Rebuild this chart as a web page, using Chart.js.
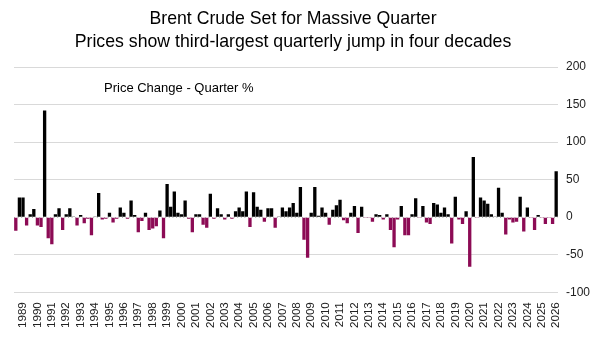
<!DOCTYPE html>
<html>
<head>
<meta charset="utf-8">
<script src="https://cdn.jsdelivr.net/npm/chart.js@4.4.1/dist/chart.umd.min.js"></script>
<style>
  html, body { margin: 0; padding: 0; background: #ffffff; }
  #wrap { width: 600px; height: 359px; position: relative; }
</style>
</head>
<body>
<div id="wrap"><canvas id="c" width="600" height="359"></canvas></div>
<script>
// ---- Data (quarterly % change, Brent crude, 1988 Q3 .. 2026 Q1) ----
const firstYear = 1988;
const firstQuarter = 3;
const quarterlyChange = [
  -18, 26,                                   // 1988 Q3-Q4
  26, -11, 4, 11,                            // 1989
  -11, -13, 142, -28,                        // 1990
  -36, 4, 12, -17,                           // 1991
  4, 12, 1, -11,                             // 1992
  3, -8, -2, -24,                            // 1993
  1, 32, -3, -2,                             // 1994
  6, -7, -2, 13,                             // 1995
  6, -2, 22, 3,                              // 1996
  -20, -5, 6, -17,                           // 1997
  -15, -12, 9, -28,                          // 1998
  44, 14, 34, 6,                             // 1999
  4, 22, -2, -20,                            // 2000
  4, 4, -10, -14,                            // 2001
  31, -2, 12, 4,                             // 2002
  -3, 4, -2, 8,                              // 2003
  13, 8, 34, -13,                            // 2004
  33, 14, 10, -6,                            // 2005
  12, 12, -14, 1,                            // 2006
  13, 8, 13, 19,                             // 2007
  6, 40, -30, -54,                           // 2008
  6, 40, 2, 13,                              // 2009
  6, -10, 10, 16,                            // 2010
  23, -4, -8, 6,                             // 2011
  15, -21, 14, -1,                           // 2012
  -1, -6, 4, 3,                              // 2013
  -3, 4, -17, -40,                           // 2014
  -3, 15, -24, -24,                          // 2015
  4, 25, -1, 15,                             // 2016
  -7, -9, 19, 17,                            // 2017
  6, 13, 4, -35,                             // 2018
  27, -3, -9, 8,                             // 2019
  -66, 80, -1, 26,                           // 2020
  22, 18, 4, 1,                              // 2021
  39, 6, -23, -3,                            // 2022
  -7, -6, 27, -19,                           // 2023
  13, -1, -17, 3,                            // 2024
  -1, -9, -1, -9,                            // 2025
  61                                         // 2026 Q1
];
const yearLabels = ['1989','1990','1991','1992','1993','1994','1995','1996','1997','1998',
  '1999','2000','2001','2002','2003','2004','2005','2006','2007','2008','2009','2010',
  '2011','2012','2013','2014','2015','2016','2017','2018','2019','2020','2021','2022',
  '2023','2024','2025','2026'];
const yTicks = { min: -100, max: 200, step: 50 };
const titleLines = ['Brent Crude Set for Massive Quarter', 'Prices show third-largest quarterly jump in four decades'];
const seriesLabel = 'Price Change - Quarter %';

// quarter category labels
const categories = [];
for (let i = 0; i < quarterlyChange.length; i++) {
  const q0 = firstQuarter - 1 + i;
  categories.push((firstYear + Math.floor(q0 / 4)) + ' Q' + (q0 % 4 + 1));
}

const POS = '#000000';
const NEG = '#8C0B55';
const FONT = "'Liberation Sans', Arial, sans-serif";

const overlay = {
  id: 'overlay',
  beforeDatasetsDraw(chart) {
    const { ctx, chartArea, scales } = chart;
    const y0 = scales.y.getPixelForValue(0);
    ctx.save();
    ctx.strokeStyle = '#b0b0b0';
    ctx.lineWidth = 1;
    ctx.setLineDash([1, 2.6]);
    ctx.beginPath();
    ctx.moveTo(chartArea.left, Math.round(y0) + 0.5);
    ctx.lineTo(chartArea.right, Math.round(y0) + 0.5);
    ctx.stroke();
    ctx.restore();
  },
  afterDraw(chart) {
    const { ctx, chartArea } = chart;
    ctx.save();
    ctx.fillStyle = '#000';
    // title (two centred lines)
    ctx.font = '17.7px ' + FONT;
    ctx.textAlign = 'center';
    ctx.textBaseline = 'middle';
    ctx.fillText(titleLines[0], 293, 19.5);
    ctx.fillText(titleLines[1], 293, 42.5);
    // series annotation
    ctx.font = '13px ' + FONT;
    ctx.textBaseline = 'middle';
    ctx.textAlign = 'left';
    ctx.fillText(seriesLabel, chartArea.left + 90, chartArea.top + 21);
    ctx.restore();
  }
};

new Chart(document.getElementById('c'), {
  type: 'bar',
  data: {
    labels: categories,
    datasets: [{
      label: seriesLabel,
      data: quarterlyChange,
      backgroundColor: quarterlyChange.map(v => v >= 0 ? POS : NEG),
      borderWidth: 0,
      barPercentage: 0.92,
      categoryPercentage: 1.0
    }]
  },
  options: {
    responsive: false,
    animation: false,
    devicePixelRatio: 1,
    layout: { padding: { left: 14, right: 2, top: 67, bottom: 29 } },
    plugins: {
      legend: { display: false },
      tooltip: { enabled: false },
      title: { display: false }
    },
    scales: {
      x: {
        grid: { display: false },
        border: { display: false },
        ticks: {
          autoSkip: false,
          maxRotation: 90,
          minRotation: 90,
          padding: 2,
          color: '#222',
          font: { family: FONT, size: 11.6 },
          callback: function (value, index) {
            const lab = categories[index];
            if (lab.endsWith('Q1')) {
              const y = lab.slice(0, 4);
              return yearLabels.includes(y) ? y : '';
            }
            return '';
          }
        }
      },
      y: {
        position: 'right',
        min: yTicks.min,
        max: yTicks.max,
        ticks: {
          stepSize: yTicks.step,
          padding: 8,
          color: '#222',
          font: { family: FONT, size: 12 }
        },
        grid: {
          drawTicks: false,
          color: (c) => (c.tick && c.tick.value === 0) ? 'rgba(0,0,0,0)' : '#d9d9d9',
          lineWidth: 1
        },
        border: { display: false }
      }
    }
  },
  plugins: [overlay]
});
</script>
</body>
</html>
